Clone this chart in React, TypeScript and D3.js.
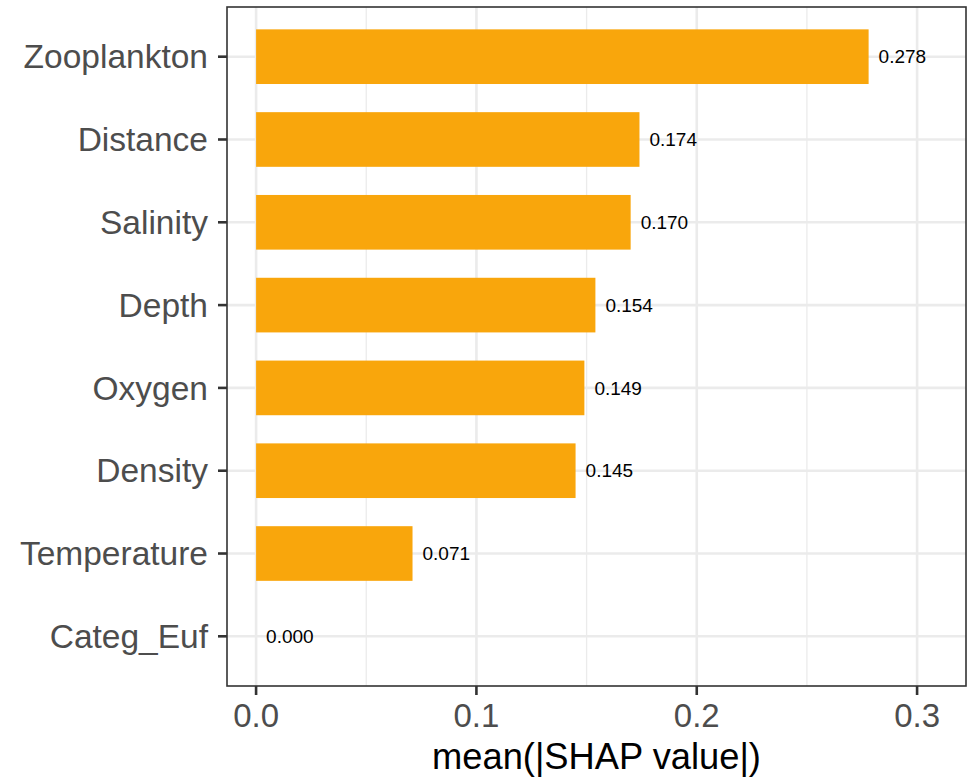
import React from "react";
import * as d3 from "d3";

const categories = ["Zooplankton", "Distance", "Salinity", "Depth", "Oxygen", "Density", "Temperature", "Categ_Euf"];
const values = [0.278, 0.174, 0.17, 0.154, 0.149, 0.145, 0.071, 0.0];
const valueLabels = ["0.278", "0.174", "0.170", "0.154", "0.149", "0.145", "0.071", "0.000"];
const xTicks = [0, 0.1, 0.2, 0.3];
const xMinor = [0.05, 0.15, 0.25];
const xTitle = "mean(|SHAP value|)";

const W = 974, H = 778;
const panel = { left: 227, right: 966, top: 7, bottom: 686 };
const FONT = "'Liberation Sans', Arial, Helvetica, sans-serif";
const BAR = "#F9A60C";

export default function App() {
  const x = d3.scaleLinear().domain([-0.0132, 0.3222]).range([panel.left, panel.right]);
  const y = d3.scaleLinear().domain([0.4, categories.length + 0.6]).range([panel.top, panel.bottom]);
  const bw = 0.66;
  return (
    <svg width={W} height={H} style={{ position: "absolute", left: 0, top: 0, background: "#fff" }} fontFamily={FONT}>
      <rect x={0} y={0} width={W} height={H} fill="#fff" />
      {xMinor.map((t) => (
        <line key={"mn" + t} x1={x(t)} x2={x(t)} y1={panel.top} y2={panel.bottom} stroke="#EBEBEB" strokeWidth={1.3} />
      ))}
      {xTicks.map((t) => (
        <line key={"mj" + t} x1={x(t)} x2={x(t)} y1={panel.top} y2={panel.bottom} stroke="#EBEBEB" strokeWidth={2.6} />
      ))}
      {categories.map((c, i) => (
        <line key={"hy" + c} x1={panel.left} x2={panel.right} y1={y(i + 1)} y2={y(i + 1)} stroke="#EBEBEB" strokeWidth={2.6} />
      ))}
      {categories.map((c, i) => (
        <rect key={"b" + c} x={x(0)} y={y(i + 1 - bw / 2)} width={x(values[i]) - x(0)} height={y(i + 1 + bw / 2) - y(i + 1 - bw / 2)} fill={BAR} />
      ))}
      {categories.map((c, i) => (
        <text key={"l" + c} x={x(values[i]) + 10} y={y(i + 1)} dy="0.35em" fontSize={19} fill="#000">
          {valueLabels[i]}
        </text>
      ))}
      <rect x={panel.left} y={panel.top} width={panel.right - panel.left} height={panel.bottom - panel.top} fill="none" stroke="#333" strokeWidth={1.6} />
      {categories.map((c, i) => (
        <g key={"yt" + c}>
          <line x1={panel.left - 9} x2={panel.left} y1={y(i + 1)} y2={y(i + 1)} stroke="#333" strokeWidth={2.6} />
          <text x={panel.left - 19} y={y(i + 1)} dy="0.35em" textAnchor="end" fontSize={33.5} fill="#4D4D4D">
            {c}
          </text>
        </g>
      ))}
      {xTicks.map((t) => (
        <g key={"xt" + t}>
          <line x1={x(t)} x2={x(t)} y1={panel.bottom} y2={panel.bottom + 9} stroke="#333" strokeWidth={2.6} />
          <text x={x(t)} y={panel.bottom + 41} textAnchor="middle" fontSize={33} fill="#4D4D4D">
            {d3.format(".1f")(t)}
          </text>
        </g>
      ))}
      <text x={(panel.left + panel.right) / 2} y={769} textAnchor="middle" fontSize={36.3} fill="#000">
        {xTitle}
      </text>
    </svg>
  );
}
